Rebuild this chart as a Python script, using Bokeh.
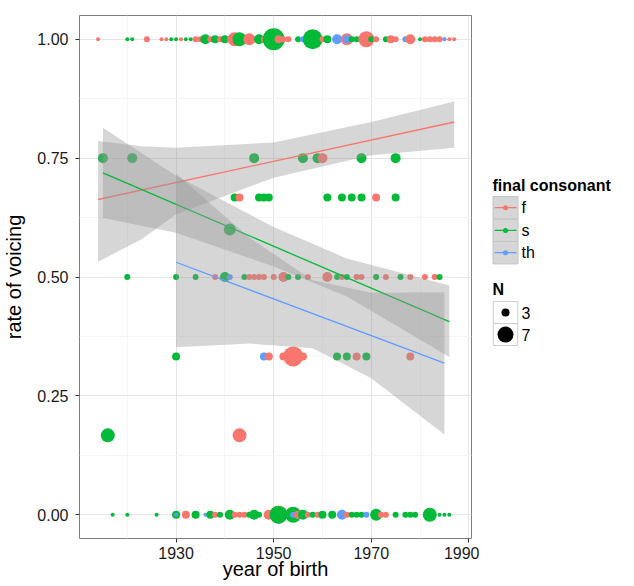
import numpy as np
from bokeh.plotting import figure
from bokeh.models import ColumnDataSource, FixedTicker, Range1d
from bokeh.layouts import row
from bokeh.embed import file_html
from bokeh.resources import INLINE
from bokeh.core.properties import value

# ---------------- data ----------------
consonants = ["f", "s", "th"]
colors = {"f": "#F8766D", "s": "#00BA38", "th": "#619CFF"}

f_year = [1914, 1924, 1927, 1928, 1931, 1934, 1935, 1937, 1939, 1941, 1942, 1945, 1946, 1948, 1949,
          1951, 1952, 1953, 1960, 1965, 1969, 1971, 1974, 1975, 1978, 1981, 1982, 1983, 1984, 1985, 1986, 1987,
          1960, 1943, 1971,
          1938, 1945, 1946, 1947, 1948, 1950, 1952, 1957, 1961, 1964, 1967, 1968, 1973, 1978, 1981, 1983,
          1949, 1952, 1954, 1956, 1967, 1978,
          1943,
          1932, 1938, 1942, 1943, 1944, 1949, 1951, 1955, 1957, 1959, 1965, 1972, 1973]
f_rate = [1.0] * 32 + [0.75] + [0.667] * 2 + [0.5] * 16 + [0.333] * 6 + [0.167] + [0.0] * 13
f_n = [1, 2, 1, 1, 1, 2, 2, 2, 2, 2, 6, 5, 2, 2, 2,
       3, 2, 2, 2, 5, 7, 2, 3, 2, 4, 2, 2, 2, 2, 1, 1, 1,
       4, 3, 3,
       2, 2, 2, 2, 2, 2, 4, 2, 4, 2, 2, 2, 2, 2, 2, 2,
       3, 3, 9, 3, 3, 3,
       6,
       3, 2, 2, 2, 2, 4, 8, 3, 2, 2, 2, 2, 2]

s_year = [1920, 1921, 1929, 1930, 1932, 1933, 1936, 1938, 1940, 1943, 1947, 1950, 1955, 1958, 1961,
          1966, 1967, 1970, 1973, 1980,
          1915, 1921, 1946, 1956, 1959, 1968, 1975,
          1942, 1947, 1948, 1949, 1961, 1964, 1966, 1968, 1975,
          1941,
          1920, 1930, 1934, 1940, 1944, 1953, 1955, 1963, 1965, 1971, 1976, 1984,
          1930, 1963, 1965, 1969,
          1916,
          1917, 1920, 1926, 1930, 1934, 1937, 1939, 1941, 1945, 1946, 1947, 1951, 1954, 1956, 1958,
          1960, 1962, 1964, 1966, 1967, 1968, 1971, 1975, 1977, 1978, 1979, 1982, 1984, 1985, 1986]
s_rate = [1.0] * 20 + [0.75] * 7 + [0.667] * 9 + [0.6] + [0.5] * 12 + [0.333] * 4 + [0.167] + [0.0] * 30
s_n = [1, 1, 1, 1, 1, 1, 4, 3, 3, 6, 4, 10, 2, 9, 3,
       2, 2, 2, 2, 1,
       4, 4, 4, 4, 4, 4, 4,
       3, 3, 3, 3, 3, 3, 3, 3, 3,
       5,
       2, 2, 2, 4, 2, 2, 2, 2, 2, 2, 2, 2,
       3, 3, 3, 3,
       6,
       1, 1, 1, 3, 3, 3, 2, 4, 2, 4, 2, 8, 7, 4, 2,
       3, 3, 2, 2, 2, 2, 5, 2, 2, 2, 2, 6, 1, 1, 1]

th_year = [1956, 1963, 1965, 1977, 1985, 1941, 1948, 1930, 1936, 1954, 1964, 1969]
th_rate = [1.0] * 5 + [0.5] + [0.333] + [0.0] * 5
th_n = [2, 4, 3, 2, 1, 2, 3, 1, 1, 2, 4, 2]

# fitted lines (end points)
f_line_year = [1914, 1987]
f_line_rate = [0.663, 0.826]
s_line_year = [1915, 1986]
s_line_rate = [0.719, 0.406]
th_line_year = [1930, 1985]
th_line_rate = [0.531, 0.319]

# confidence bands (edges)
f_band_year = [1914, 1923, 1930, 1950, 1970, 1987]
f_band_low = [0.532, 0.580, 0.632, 0.709, 0.756, 0.772]
f_band_high = [0.786, 0.775, 0.772, 0.783, 0.826, 0.869]
s_band_year = [1915, 1930, 1950, 1965, 1986]
s_band_low = [0.624, 0.593, 0.522, 0.459, 0.332]
s_band_high = [0.814, 0.713, 0.605, 0.539, 0.482]
th_band_year = [1930, 1945, 1958, 1970, 1985]
th_band_low = [0.352, 0.360, 0.350, 0.287, 0.169]
th_band_high = [0.717, 0.583, 0.493, 0.467, 0.468]

x_ticks = [1930, 1950, 1970, 1990]
x_minor = [1920, 1940, 1960, 1980]
y_ticks = [0.0, 0.25, 0.5, 0.75, 1.0]
y_minor = [0.125, 0.375, 0.625, 0.875]
y_tick_labels = {0.0: "0.00", 0.25: "0.25", 0.5: "0.50", 0.75: "0.75", 1.0: "1.00"}
legend_sizes = [3, 7]

FONT = "Liberation Sans"


def px(n):
    return 2.0 + 2.0 * np.asarray(n, dtype=float)


# ---------------- main panel ----------------
p = figure(width=479, height=586, output_backend="svg", toolbar_location=None,
           x_range=Range1d(1910.2, 1990.55), y_range=Range1d(-0.05, 1.05),
           min_border_left=79, min_border_right=8, min_border_top=15, min_border_bottom=48)
p.background_fill_color = "white"
p.border_fill_color = "white"
p.outline_line_color = "#7f7f7f"
p.outline_line_width = 1

p.xaxis.ticker = FixedTicker(ticks=x_ticks, minor_ticks=x_minor)
p.yaxis.ticker = FixedTicker(ticks=y_ticks, minor_ticks=y_minor)
p.yaxis.major_label_overrides = y_tick_labels
for ax in (p.xaxis[0], p.yaxis[0]):
    ax.axis_line_color = None
    ax.major_tick_out = 4
    ax.major_tick_in = 0
    ax.minor_tick_out = 0
    ax.minor_tick_in = 0
    ax.major_tick_line_color = "#333333"
    ax.major_label_text_font = FONT
    ax.major_label_text_font_size = "16px"
    ax.major_label_text_color = "#1a1a1a"
    ax.axis_label_text_font = FONT
    ax.axis_label_text_font_size = "20px"
    ax.axis_label_text_font_style = "normal"
    ax.axis_label_text_color = "black"
p.yaxis.major_label_standoff = 7
p.xaxis.major_label_standoff = 4
p.yaxis.axis_label = "rate of voicing"
p.yaxis.axis_label_standoff = 9
p.xaxis.axis_label = "year of birth"
p.xaxis.axis_label_standoff = -4

for g in (p.xgrid[0], p.ygrid[0]):
    g.grid_line_color = "#e5e5e5"
    g.grid_line_width = 1
    g.minor_grid_line_color = "#f5f5f5"
    g.minor_grid_line_width = 1

# points, combined in year order
rows = []
for c, ys, rs, ns in (("f", f_year, f_rate, f_n), ("s", s_year, s_rate, s_n), ("th", th_year, th_rate, th_n)):
    for yv, rv, nv in zip(ys, rs, ns):
        rows.append((yv, rv, nv, c))
rows.sort(key=lambda r: r[0])
src = ColumnDataSource(dict(
    year=[r[0] for r in rows],
    rate=[r[1] for r in rows],
    size=list(px([r[2] for r in rows])),
    color=[colors[r[3]] for r in rows],
))
p.scatter("year", "rate", size="size", fill_color="color", line_color=None, source=src)

# smooths: ribbon then line, per group
for c, by, bl, bh, ly, lr in (
        ("f", f_band_year, f_band_low, f_band_high, f_line_year, f_line_rate),
        ("s", s_band_year, s_band_low, s_band_high, s_line_year, s_line_rate),
        ("th", th_band_year, th_band_low, th_band_high, th_line_year, th_line_rate)):
    p.varea(x=by, y1=bl, y2=bh, fill_color="#999999", fill_alpha=0.4)
    p.line(x=ly, y=lr, line_color=colors[c], line_width=1.3)

# ---------------- legend panel ----------------
L = figure(width=155, height=586, output_backend="svg", toolbar_location=None,
           x_range=Range1d(0, 155), y_range=Range1d(586, 0),
           x_axis_location=None, y_axis_location=None,
           min_border_left=0, min_border_right=0, min_border_top=0, min_border_bottom=0)
L.outline_line_color = None
L.grid.visible = False
L.background_fill_color = "white"
L.border_fill_color = "white"

key_y = [215.3, 240.8, 265.8]
L.rect(x=[26] * 3, y=key_y, width=25, height=25, fill_color="#d6d6d6", line_color="#c4c4c4")
for c, yy in zip(consonants, key_y):
    L.line(x=[15, 37], y=[yy, yy], line_color=colors[c], line_width=1.3)
    L.scatter(x=[26], y=[yy], size=5, fill_color=colors[c], line_color=None)
L.text(x=[42] * 3, y=key_y, text=consonants, text_font=value(FONT), text_font_size="16px",
       text_baseline="middle", text_color="black")
L.text(x=[13], y=[191], text=["final consonant"], text_font=value(FONT), text_font_size="16px",
       text_font_style="bold", text_baseline="middle", text_color="black")

n_y = [332.8, 357.5]
L.rect(x=[26] * 2, y=n_y, width=24.5, height=24.5, fill_color="white", line_color="#cccccc")
L.scatter(x=[26] * 2, y=n_y, size=list(px(legend_sizes)), fill_color="black", line_color=None)
L.text(x=[42] * 2, y=n_y, text=[str(s) for s in legend_sizes], text_font=value(FONT),
       text_font_size="16px", text_baseline="middle", text_color="black")
L.text(x=[13], y=[307.5], text=["N"], text_font=value(FONT), text_font_size="16px",
       text_font_style="bold", text_baseline="middle", text_color="black")

layout = row(p, L)
open("out.html", "w").write(file_html(layout, INLINE))
